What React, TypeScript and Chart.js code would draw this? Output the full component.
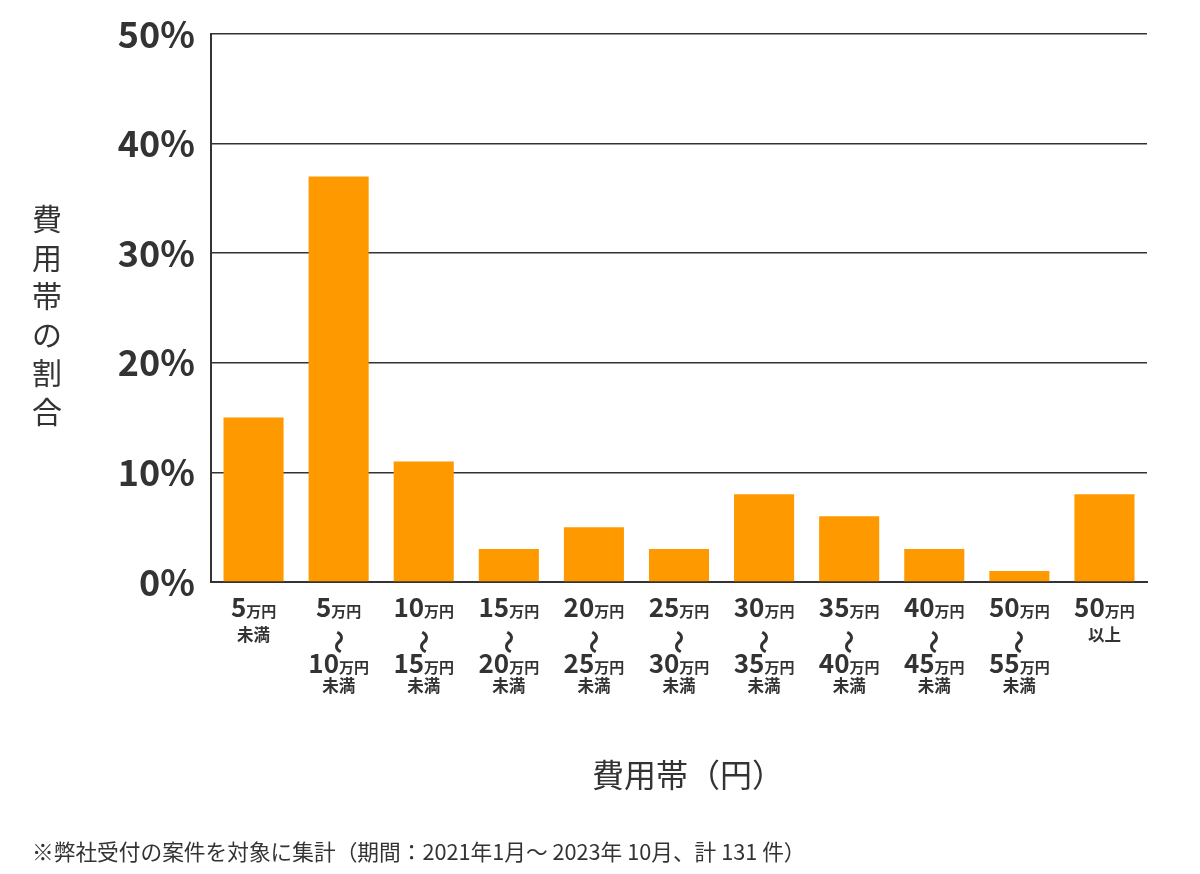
import React, { useEffect, useRef } from 'react';
import { Chart, registerables } from 'chart.js';

Chart.register(...registerables);

// ---- data ----
const fromLabels = ['5', '5', '10', '15', '20', '25', '30', '35', '40', '50', '50'];
const toLabels = ['', '10', '15', '20', '25', '30', '35', '40', '45', '55', ''];
const suffixLabels = ['未満', '未満', '未満', '未満', '未満', '未満', '未満', '未満', '未満', '未満', '以上'];
const shares = [15, 37, 11, 3, 5, 3, 8, 6, 3, 1, 8];
const yTicks = [0, 10, 20, 30, 40, 50];
const unitText = '万円';
const waveText = '～';
const yTitleChars = ['費', '用', '帯', 'の', '割', '合'];
const xTitle = '費用帯（円）';
const footnote = '※弊社受付の案件を対象に集計（期間：2021年1月～ 2023年 10月、計 131 件）';

const categories = fromLabels.map((f, i) =>
  toLabels[i] ? `${f}${unitText}～${toLabels[i]}${unitText}${suffixLabels[i]}` : `${f}${unitText}${suffixLabels[i]}`
);

const TEXT = '#333333';
const BAR = '#ff9900';
const CJK = '"Noto Sans CJK JP", "Noto Sans", sans-serif';

const labelPlugin = {
  id: 'customLabels',
  afterDraw(chart: any) {
    const ctx: CanvasRenderingContext2D = chart.ctx;
    const xs = chart.scales.x;
    const area = chart.chartArea;
    ctx.save();
    ctx.fillStyle = TEXT;

    const numFont = `bold 26px ${CJK}`;
    const unitFont = `bold 15px ${CJK}`;
    const sufFont = `bold 16.5px ${CJK}`;

    const drawLine = (num: string, cx: number, y: number) => {
      ctx.font = numFont;
      const a = ctx.measureText(num).width;
      ctx.font = unitFont;
      const b = ctx.measureText(unitText).width;
      const x = cx - (a + b) / 2;
      ctx.textAlign = 'left';
      ctx.textBaseline = 'alphabetic';
      ctx.font = numFont;
      ctx.fillText(num, x, y);
      ctx.font = unitFont;
      ctx.fillText(unitText, x + a, y);
    };

    fromLabels.forEach((f, i) => {
      const cx = xs.getPixelForValue(i);
      const t = toLabels[i];
      drawLine(f, cx, area.bottom + 35);
      if (t) {
        ctx.save();
        ctx.translate(cx, area.bottom + 60);
        ctx.rotate(Math.PI / 2);
        ctx.font = `bold 24px ${CJK}`;
        ctx.textAlign = 'center';
        ctx.textBaseline = 'middle';
        ctx.fillText(waveText, 0, 0);
        ctx.restore();
        drawLine(t, cx, area.bottom + 91);
        ctx.font = sufFont;
        ctx.textAlign = 'center';
        ctx.textBaseline = 'alphabetic';
        ctx.fillText(suffixLabels[i], cx, area.bottom + 110);
      } else {
        ctx.font = sufFont;
        ctx.textAlign = 'center';
        ctx.textBaseline = 'alphabetic';
        ctx.fillText(suffixLabels[i], cx, area.bottom + 59);
      }
    });

    // y title (vertical stacked)
    ctx.font = `30px ${CJK}`;
    ctx.textAlign = 'center';
    ctx.textBaseline = 'middle';
    const cy = (area.top + area.bottom) / 2 + 7;
    yTitleChars.forEach((c, i) => {
      ctx.fillText(c, 47, cy + (i - 2.5) * 38.5);
    });

    // x title
    ctx.font = `32px ${CJK}`;
    ctx.textAlign = 'center';
    ctx.textBaseline = 'middle';
    ctx.fillText(xTitle, (area.left + area.right) / 2 + 9, area.bottom + 193);

    // footnote
    ctx.font = `21.7px ${CJK}`;
    ctx.textAlign = 'left';
    ctx.textBaseline = 'middle';
    ctx.fillText(footnote, 32, 852);

    ctx.restore();
  },
};

export default function App() {
  const ref = useRef<HTMLCanvasElement>(null);
  useEffect(() => {
    if (!ref.current) return;
    const chart = new Chart(ref.current, {
      type: 'bar',
      data: {
        labels: categories,
        datasets: [
          {
            data: shares,
            backgroundColor: BAR,
            borderWidth: 0,
            barPercentage: 0.706,
            categoryPercentage: 1,
          },
        ],
      },
      options: {
        responsive: false,
        animation: false,
        devicePixelRatio: 1,
        layout: { padding: { top: 34, right: 53, bottom: 292, left: 0 } },
        plugins: { legend: { display: false }, tooltip: { enabled: false } },
        scales: {
          x: {
            grid: { display: false },
            border: { display: true, color: TEXT, width: 2 },
            ticks: { display: false },
            afterFit: (s: any) => {
              s.height = 0;
            },
          },
          y: {
            min: 0,
            max: 50,
            afterBuildTicks: (s: any) => {
              s.ticks = yTicks.map((v) => ({ value: v }));
            },
            ticks: {
              callback: (v: any) => `${v}%`,
              font: { family: CJK, weight: 'bold', size: 36, lineHeight: 1 },
              color: TEXT,
              padding: 16,
            },
            grid: { color: TEXT, lineWidth: 1.5, drawTicks: false },
            border: { color: TEXT, width: 2 },
            afterFit: (s: any) => {
              s.width = 211;
            },
          },
        },
      },
      plugins: [labelPlugin],
    } as any);
    return () => chart.destroy();
  }, []);
  return (
    <div style={{ position: 'fixed', left: 0, top: 0, width: 1200, height: 874, background: '#fff' }}>
      <canvas ref={ref} width={1200} height={874} />
    </div>
  );
}
